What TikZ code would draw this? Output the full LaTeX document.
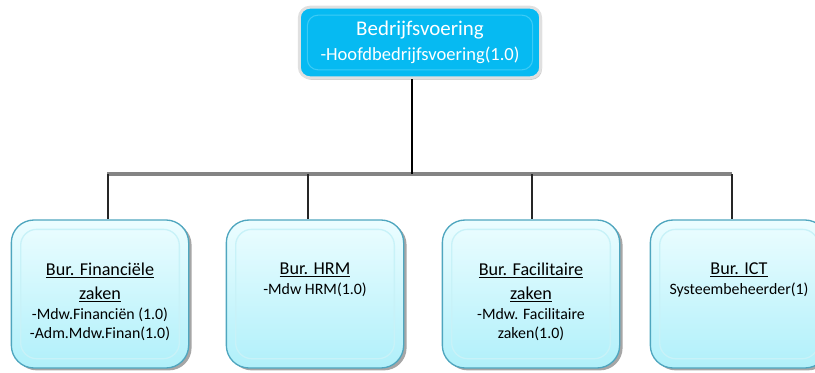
\documentclass[tikz,border=0pt]{standalone}
\usepackage{fontspec}
\setmainfont{Carlito}
\usetikzlibrary{positioning,shadows}
\definecolor{topblue}{HTML}{06BAF2}
\definecolor{topinner}{HTML}{3CCBF6}
\definecolor{burtop}{HTML}{ECFDFF}
\definecolor{burbottom}{HTML}{B0F0FA}
\definecolor{burline}{HTML}{4FA6BF}
\definecolor{burinner}{HTML}{C8F2F8}
\definecolor{barcol}{HTML}{848484}
\newcommand\burtitle[1]{{\fontsize{13.6}{17}\selectfont\underline{#1}}}
\begin{document}
\begin{tikzpicture}
[x=0.75pt,y=-0.75pt,
 topbox/.style={rectangle,rounded corners=8pt,fill=topblue,draw=black!12,line width=2.2pt,
   minimum width=181pt,minimum height=53pt,text=white,align=center,
   font=\fontsize{13.9}{18.5}\selectfont,
   drop shadow={shadow xshift=1pt,shadow yshift=-1.5pt,opacity=.4},
   path picture={\draw[topinner,line width=.8pt]
     ([shift={(6pt,-6pt)}]path picture bounding box.north west) rectangle
     ([shift={(-6pt,6pt)}]path picture bounding box.south east);}},
 burbox/.style={rectangle,rounded corners=17pt,top color=burtop,bottom color=burbottom,
   draw=burline,line width=1pt,minimum width=133pt,minimum height=111pt,
   drop shadow={shadow xshift=2.2pt,shadow yshift=-1.8pt,opacity=.7},
   path picture={\draw[burinner,rounded corners=12pt,line width=1pt]
     ([shift={(7pt,-7pt)}]path picture bounding box.north west) rectangle
     ([shift={(-7pt,7pt)}]path picture bounding box.south east);}},
 burtext/.style={anchor=north,align=center,inner sep=0pt,
   font=\fontsize{11.9}{14}\selectfont},
 bar/.style={draw=barcol,line width=2.7pt},
 drop/.style={draw=black!85,line width=1.8pt}]
\useasboundingbox (0,0) rectangle (815,372);

\node[topbox] (bedr) at (420,42.5)
  {{\fontsize{15.7}{18.5}\selectfont Bedrijfsvoering}\\-Hoofdbedrijfsvoering(1.0)};

\node[burbox] (fin) at (100,294) {};
\node[burbox] (hrm) at (315,294) {};
\node[burbox] (fac) at (531,294) {};
\node[burbox] (ict) at (739,294) {};

\node[burtext,below=32.5pt of fin.north]
  {\burtitle{Bur. Financiële}\\[4pt]\burtitle{zaken}\\[1pt]-Mdw.Financiën (1.0)\\-Adm.Mdw.Finan(1.0)};
\node[burtext,below=32.5pt of hrm.north] {\burtitle{Bur. HRM}\\[1pt]-Mdw HRM(1.0)};
\node[burtext,below=32.5pt of fac.north]
  {\burtitle{Bur. Facilitaire}\\[4pt]\burtitle{zaken}\\[1pt]-Mdw. Facilitaire\\zaken(1.0)};
\node[burtext,below=32.5pt of ict.north] {\burtitle{Bur. ICT}\\[1pt]Systeembeheerder(1)};

\coordinate (bar-l) at (107,174);
\coordinate (bar-r) at (732,174);
\coordinate (j0) at (412,174);
\coordinate (j1) at (108,174);
\coordinate (j2) at (308,174);
\coordinate (j3) at (532,174);
\coordinate (j4) at (732,174);

\draw[bar] (bar-l) -- (bar-r);
\draw[black,line width=1pt] (j0 |- bedr.south) -- (j0);
\foreach \j/\b in {j1/fin,j2/hrm,j3/fac,j4/ict}
  \draw[drop] (\j) -- (\j |- \b.north);
\end{tikzpicture}
\end{document}
